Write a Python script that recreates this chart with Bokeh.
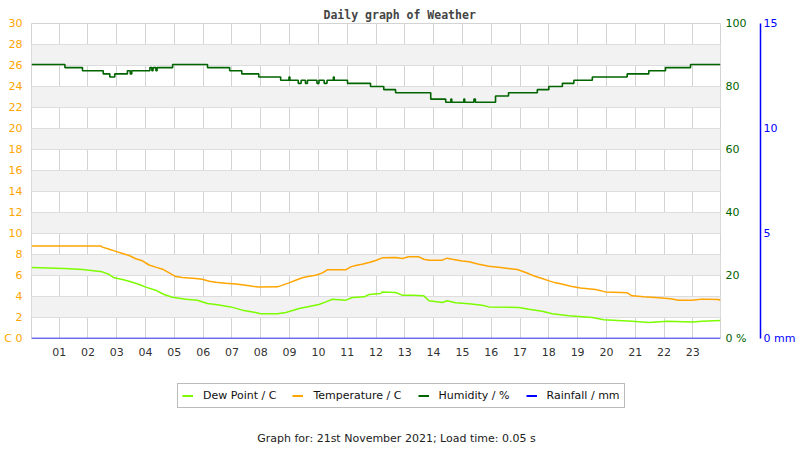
from bokeh.plotting import figure
from bokeh.layouts import column
from bokeh.models import Range1d, LinearAxis, FixedTicker, Legend, LegendItem, Label
from bokeh.embed import file_html
from bokeh.resources import INLINE

# ---- data (hours of the day) ----
temp_hours = [0.04, 1.00, 2.45, 2.50, 2.74, 2.97, 3.20, 3.43, 3.66, 3.89, 4.12, 4.35, 4.59, 4.82,
              5.05, 5.28, 5.51, 5.74, 5.97, 6.21, 6.44, 6.78, 7.13, 7.48, 7.71, 7.94, 8.58, 8.75,
              8.98, 9.21, 9.44, 9.68, 9.91, 10.14, 10.31, 10.95, 11.12, 11.29, 11.52, 11.76, 11.99,
              12.22, 12.68, 12.91, 13.14, 13.49, 13.66, 13.84, 14.30, 14.47, 14.65, 14.99, 15.23,
              15.57, 15.92, 16.33, 16.90, 17.08, 17.31, 17.54, 17.77, 18.01, 18.24, 18.52, 18.76,
              19.10, 19.62, 19.97, 20.72, 20.89, 21.30, 21.82, 22.22, 22.51, 22.97, 23.32, 23.90, 23.96]
temp_c = [8.8, 8.8, 8.8, 8.7, 8.5, 8.3, 8.1, 7.9, 7.6, 7.4, 7.0, 6.8, 6.6, 6.25,
          5.9, 5.8, 5.77, 5.71, 5.64, 5.45, 5.36, 5.26, 5.2, 5.08, 4.98, 4.9, 4.92, 5.08,
          5.3, 5.55, 5.78, 5.93, 6.03, 6.25, 6.54, 6.54, 6.82, 6.95, 7.08, 7.23, 7.43,
          7.68, 7.71, 7.62, 7.78, 7.78, 7.55, 7.46, 7.46, 7.65, 7.55, 7.39, 7.30,
          7.08, 6.89, 6.76, 6.57, 6.41, 6.16, 5.90, 5.71, 5.49, 5.30, 5.14, 4.98,
          4.82, 4.66, 4.44, 4.35, 4.06, 3.97, 3.87, 3.78, 3.65, 3.65, 3.75, 3.71, 3.62]

dew_hours = [0.04, 1.17, 1.81, 2.50, 2.74, 2.91, 3.20, 3.43, 3.78, 4.01, 4.35, 4.64, 4.93, 5.40,
             5.80, 6.15, 6.44, 6.96, 7.36, 7.82, 7.99, 8.58, 8.87, 9.10, 9.33, 9.68, 10.02, 10.26,
             10.49, 10.95, 11.18, 11.59, 11.76, 12.16, 12.22, 12.68, 12.91, 13.26, 13.66, 13.84,
             14.30, 14.47, 14.76, 15.23, 15.69, 15.92, 16.96, 17.31, 17.77, 18.12, 18.70, 19.51,
             19.91, 20.89, 21.47, 22.11, 22.97, 23.32, 23.96]
dew_c = [6.76, 6.66, 6.57, 6.35, 6.09, 5.78, 5.62, 5.46, 5.14, 4.89, 4.60, 4.19, 3.93, 3.74,
         3.65, 3.33, 3.24, 3.01, 2.70, 2.48, 2.35, 2.35, 2.48, 2.66, 2.85, 3.05, 3.24, 3.49,
         3.74, 3.65, 3.90, 3.97, 4.19, 4.28, 4.44, 4.38, 4.13, 4.13, 4.06, 3.59,
         3.43, 3.59, 3.40, 3.30, 3.17, 3.01, 2.95, 2.79, 2.60, 2.35, 2.16, 2.00,
         1.78, 1.65, 1.53, 1.65, 1.56, 1.65, 1.71]

hum_hours = [0.04, 1.20, 1.81, 2.53, 2.76, 2.93, 3.37, 3.47, 3.52, 4.15, 4.22, 4.26, 4.36, 4.40,
             4.94, 6.15, 6.92, 7.34, 7.93, 8.69, 8.98, 9.01, 9.30, 9.40, 9.55, 9.62, 9.95, 10.02,
             10.20, 10.30, 10.52, 10.55, 11.01, 11.81, 12.27, 12.68, 13.90, 14.42, 14.60, 14.63,
             15.05, 15.08, 15.40, 15.45, 16.15, 16.60, 17.60, 18.00, 18.47, 18.87, 19.51, 20.72,
             21.47, 22.05, 22.92, 23.96]
hum_pct = [87, 86, 85, 84, 83, 84, 85, 84, 85, 86, 85, 86, 85, 86,
           87, 86, 85, 84, 83, 82, 83, 82, 81, 82, 81, 82, 81, 82,
           81, 82, 83, 82, 81, 80, 79, 78, 76, 75, 76, 75,
           76, 75, 76, 75, 77, 78, 79, 80, 81, 82, 83, 84,
           85, 86, 87, 87]

rain_hours = [0.04, 23.96]
rain_mm = [0.0, 0.0]

hour_ticks = list(range(1, 24))
hour_labels = ["01", "02", "03", "04", "05", "06", "07", "08", "09", "10", "11", "12",
               "13", "14", "15", "16", "17", "18", "19", "20", "21", "22", "23"]
temp_ticks = [0, 2, 4, 6, 8, 10, 12, 14, 16, 18, 20, 22, 24, 26, 28, 30]
hum_ticks = [0, 20, 40, 60, 80, 100]
rain_ticks = [0, 5, 10, 15]
series_names = ["Dew Point / C", "Temperature / C", "Humidity / %", "Rainfall / mm"]

C_TEMP = "#FFA500"
C_DEW = "#7CFC00"
C_HUM = "#006400"
C_RAIN = "#0000FF"
FONT = "DejaVu Sans"


def plain_axis(ax):
    ax.axis_line_color = None
    ax.major_tick_line_color = None
    ax.minor_tick_line_color = None
    ax.major_tick_out = 0
    ax.major_tick_in = 0
    ax.major_label_text_font = FONT
    ax.major_label_text_font_size = "11px"


p = figure(width=800, height=370, x_range=Range1d(0.04, 23.96), y_range=Range1d(0, 30),
           output_backend="svg", toolbar_location=None,
           min_border_left=31, min_border_right=80, min_border_top=23, min_border_bottom=32)
p.extra_y_ranges = {"hum": Range1d(0, 100), "rain": Range1d(0, 15)}
p.background_fill_color = "white"
p.border_fill_color = "white"
p.outline_line_color = "#d3d3d3"

# title
p.title.text = "Daily graph of Weather"
p.title.align = "left"
p.title.offset = 292
p.title.standoff = 4
p.title.text_font = "DejaVu Sans Mono"
p.title.text_font_style = "bold"
p.title.text_font_size = "11.5px"
p.title.text_color = "#444444"

# x axis
xa = p.xaxis[0]
plain_axis(xa)
xa.ticker = FixedTicker(ticks=hour_ticks)
xa.major_label_overrides = {t: l for t, l in zip(hour_ticks, hour_labels)}
xa.major_label_standoff = 9
xa.major_label_text_color = "#333333"

# left temperature axis (unit letter C beside the 0)
ya = p.yaxis[0]
plain_axis(ya)
ya.ticker = FixedTicker(ticks=temp_ticks)
ya.major_label_overrides = {0: "C 0"}
ya.major_label_standoff = 9
ya.major_label_text_color = C_TEMP

p.xgrid.ticker = FixedTicker(ticks=hour_ticks)
p.xgrid.grid_line_color = "#d3d3d3"
p.ygrid.ticker = FixedTicker(ticks=temp_ticks)
p.ygrid.grid_line_color = "#dddddd"
p.ygrid.band_fill_color = "#f2f2f2"
p.ygrid.band_fill_alpha = 1.0

# right axes
hax = LinearAxis(y_range_name="hum", ticker=FixedTicker(ticks=hum_ticks),
                 major_label_overrides={0: "0 %"})
plain_axis(hax)
hax.major_label_standoff = 5
hax.major_label_text_color = C_HUM
p.add_layout(hax, "right")

spacer = LinearAxis(y_range_name="hum", ticker=FixedTicker(ticks=[50]),
                    major_label_overrides={50: ""})
plain_axis(spacer)
spacer.major_tick_out = 11
spacer.major_label_standoff = 0
p.add_layout(spacer, "right")

rax = LinearAxis(y_range_name="rain", ticker=FixedTicker(ticks=rain_ticks),
                 major_label_overrides={0: "0 mm"})
plain_axis(rax)
rax.axis_line_color = C_RAIN
rax.axis_line_width = 1.5
rax.major_label_standoff = 3
rax.major_label_text_color = C_RAIN
p.add_layout(rax, "right")

# series
r_dew = p.line(dew_hours, dew_c, line_color=C_DEW, line_width=1.5)
r_temp = p.line(temp_hours, temp_c, line_color=C_TEMP, line_width=1.5)
r_hum = p.step(hum_hours, hum_pct, mode="after", y_range_name="hum", line_color=C_HUM, line_width=1.6)
r_rain = p.line(rain_hours, rain_mm, y_range_name="rain", line_color=C_RAIN, line_width=1.5)

# ---- lower strip: legend and footer (its frame is aligned with the chart frame) ----
q = figure(width=800, height=80, x_range=Range1d(0, 24), y_range=Range1d(0, 30),
           output_backend="svg", toolbar_location=None,
           x_axis_location=None, y_axis_location=None,
           min_border=0, min_border_left=0, min_border_right=0, min_border_top=0, min_border_bottom=0)
q.grid.visible = False
q.outline_line_color = None
q.background_fill_color = "white"
q.border_fill_color = "white"

# hidden copies of the series, only used as legend entries
series_x = [dew_hours, temp_hours, hum_hours, rain_hours]
series_y = [dew_c, temp_c, hum_pct, rain_mm]
colors = [C_DEW, C_TEMP, C_HUM, C_RAIN]
items = []
for name, col, xs, ys in zip(series_names, colors, series_x, series_y):
    r = q.line(xs, ys, line_color=col, line_width=2, visible=False)
    items.append(LegendItem(label=name, renderers=[r]))

legend = Legend(items=items, orientation="horizontal", location=(146, 42),
                glyph_width=11, glyph_height=15, label_height=15, label_standoff=10,
                spacing=16, padding=4, margin=0,
                border_line_color="#777777", border_line_width=1,
                background_fill_color="white", background_fill_alpha=1.0,
                inactive_fill_alpha=0.0,
                label_text_font=FONT, label_text_font_size="11px", label_text_color="#111111")
q.add_layout(legend)

q.add_layout(Label(x=365, y=12, x_units="screen", y_units="screen",
                   text="Graph for: 21st November 2021; Load time: 0.05 s",
                   text_align="center", text_baseline="middle", text_font=FONT,
                   text_font_size="11px", text_color="#222222"))

layout = column(p, q, spacing=0)
open("out.html", "w").write(file_html(layout, INLINE))
